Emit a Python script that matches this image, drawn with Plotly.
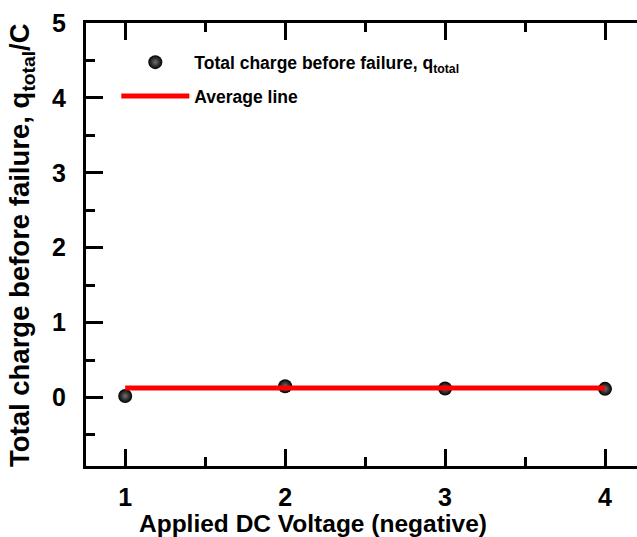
import plotly.graph_objects as go

voltage = [1, 2, 3, 4]
charge = [0.02, 0.15, 0.12, 0.115]
avg_x = [1, 4]
avg_y = [0.125, 0.125]

FONT = "Arial, Liberation Sans, sans-serif"

fig = go.Figure()
fig.add_trace(go.Scatter(
    x=voltage, y=charge, mode="markers",
    name="Total charge before failure, q<sub>total</sub>",
    legendgroup="a",
    marker=dict(size=14, color="#000000",
                gradient=dict(type="radial", color="#707070"),
                line=dict(width=0)),
))
fig.add_trace(go.Scatter(
    x=avg_x, y=avg_y, mode="lines", name="Average line",
    legendgroup="b",
    line=dict(color="#ff0000", width=5),
))

axis_common = dict(
    showline=True, linecolor="black", linewidth=3,
    ticks="inside", tickwidth=3, tickcolor="black",
    showgrid=False, zeroline=False,
    tickfont=dict(family=FONT, size=25, color="black", weight="bold"),
)

fig.update_layout(
    width=637, height=537,
    margin=dict(l=86, r=0, t=23, b=71),
    paper_bgcolor="white", plot_bgcolor="white",
    font=dict(family=FONT, color="black"),
    xaxis=dict(
        range=[0.755, 4.2], tickvals=[1, 2, 3, 4], ticklen=17,
        mirror="ticks",
        minor=dict(tickvals=[1.5, 2.5, 3.5], ticklen=9, tickwidth=3, ticks="inside", tickcolor="black"),
        ticklabelstandoff=7,
        **axis_common,
    ),
    yaxis=dict(
        range=[-0.915, 5], tickvals=[0, 1, 2, 3, 4, 5], ticklen=17,
        minor=dict(tickvals=[-0.5, 0.5, 1.5, 2.5, 3.5, 4.5], ticklen=9, tickwidth=3, ticks="inside", tickcolor="black"),
        ticklabelstandoff=12,
        **axis_common,
    ),
    yaxis2=dict(
        overlaying="y", anchor="x", side="right", range=[-0.915, 5],
        tickvals=[0, 1, 2, 3, 4, 5], ticks="inside", ticklen=10, tickwidth=3, tickcolor="black",
        minor=dict(tickvals=[-0.5, 0.5, 1.5, 2.5, 3.5, 4.5], ticklen=2, tickwidth=3, ticks="inside", tickcolor="black"),
        showticklabels=False, showline=False, showgrid=False, zeroline=False,
    ),
    annotations=[
        dict(
            text="Applied DC Voltage (negative)", xref="paper", yref="paper",
            x=0.412, y=-0.13, xanchor="center", yanchor="middle", showarrow=False,
            font=dict(family=FONT, size=24.5, color="black", weight="bold"),
        ),
        dict(
            text="Total charge before failure, q<sub>total</sub>/C", xref="paper", yref="paper",
            x=-0.116, y=0.499, xanchor="center", yanchor="middle", showarrow=False,
            textangle=-90,
            font=dict(family=FONT, size=27.5, color="black", weight="bold"),
        ),
    ],
    showlegend=True,
    legend=dict(
        x=0.055, y=0.952, xanchor="left", yanchor="top",
        bgcolor="rgba(0,0,0,0)", itemwidth=68, tracegroupgap=8,
        traceorder="grouped",
        font=dict(family=FONT, size=17.5, color="black", weight="bold"),
    ),
)

fig.write_html("out.html")
